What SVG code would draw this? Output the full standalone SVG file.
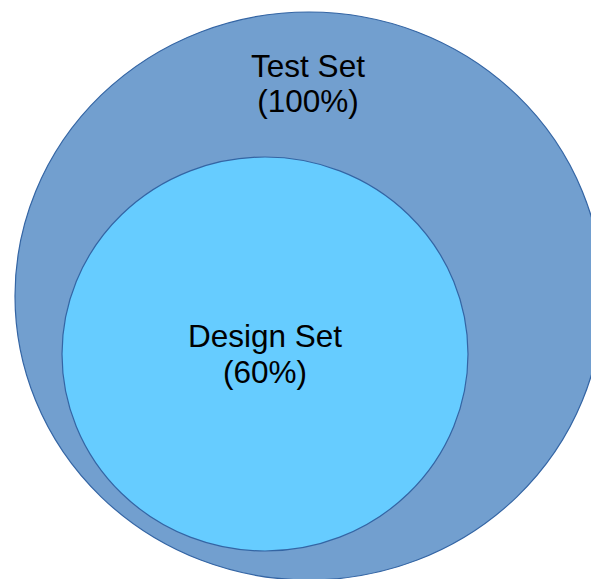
<svg xmlns="http://www.w3.org/2000/svg" width="591" height="579" viewBox="0 0 591 579">
  <style>
    .set { stroke: #3465a4; stroke-width: 1.2; }
    .outer { fill: #729fcf; }
    .inner { fill: #66ccff; }
    .label { font-family: "Liberation Sans", Arial, sans-serif; font-size: 31.5px; fill: #000000; text-anchor: middle; }
  </style>
  <rect width="591" height="579" fill="#ffffff"/>
  <g id="test-set">
    <ellipse class="set outer" cx="309" cy="296" rx="294" ry="284"/>
    <text class="label" x="308" y="77">Test Set</text>
    <text class="label" x="308" y="112">(100%)</text>
  </g>
  <g id="design-set">
    <ellipse class="set inner" cx="265" cy="354" rx="203" ry="197"/>
    <text class="label" x="265" y="347">Design Set</text>
    <text class="label" x="265" y="383">(60%)</text>
  </g>
</svg>
